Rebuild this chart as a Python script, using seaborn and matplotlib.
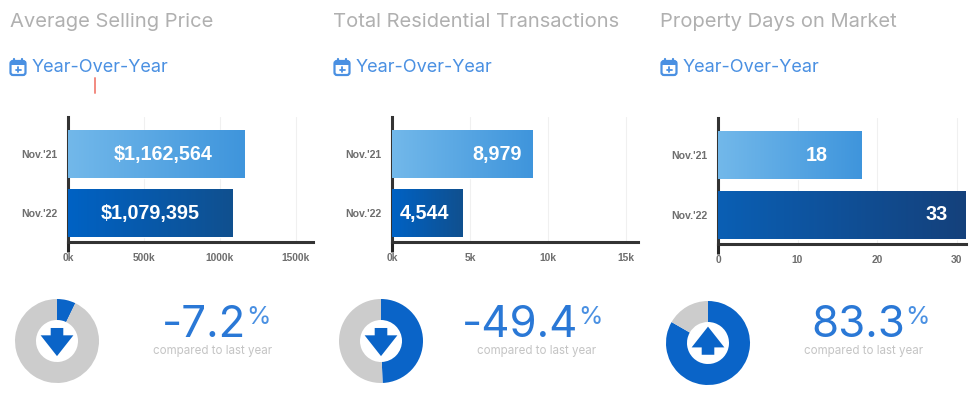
import numpy as np
import matplotlib
matplotlib.use("Agg")
import matplotlib.pyplot as plt
from matplotlib.colors import LinearSegmentedColormap
from matplotlib.patches import FancyBboxPatch, Polygon, Rectangle
import seaborn as sns

# ---- data ----
titles = ["Average Selling Price", "Total Residential Transactions", "Property Days on Market"]
periods = ["Nov.'21", "Nov.'22"]
selling_price = [1162564, 1079395]
transactions = [8979, 4544]
days_on_market = [18, 33]
price_labels = ["$1,162,564", "$1,079,395"]
transaction_labels = ["8,979", "4,544"]
days_labels = ["18", "33"]
price_ticks = [0, 500000, 1000000, 1500000]
transaction_ticks = [0, 5000, 10000, 15000]
days_ticks = [0, 10, 20, 30]
price_ticklabels = ["0k", "500k", "1000k", "1500k"]
transaction_ticklabels = ["0k", "5k", "10k", "15k"]
days_ticklabels = ["0", "10", "20", "30"]
changes = [-7.2, -49.4, 83.3]
change_labels = ["-7.2", "-49.4", "83.3"]

# ---- layout (pixels) ----
W, H = 975, 395
sns.set_theme(style="white")
HEAD = "Inter"
SMALL = "Liberation Sans"
BLUE = "#2a78d6"
BLUE_LIGHT = "#4a90e2"
GRAY_TITLE = "#b0b0b0"
panels = [
    dict(x0=68, x1=313, top=117, bottom=242, px_per_tick=76, text_x=10, icon_x=9, year_x=32, year_y=68,
         cx=57, cy=341, pct_x=246, cmp_x=213, label_x=[163, 150], dark=("#0062c4", "#10508f")),
    dict(x0=392, x1=638, top=117, bottom=242, px_per_tick=78, text_x=333, icon_x=333, year_x=356, year_y=67,
         cx=381, cy=341, pct_x=578, cmp_x=537, label_x=[497, 425], dark=("#0062c4", "#10508f")),
    dict(x0=718, x1=966, top=118, bottom=244, px_per_tick=79.5, text_x=660, icon_x=660, year_x=683, year_y=68,
         cx=708, cy=343, pct_x=905, cmp_x=864, label_x=[817, 937], dark=("#0a5fb4", "#153f78")),
]
series = [
    (selling_price, price_ticks, price_ticklabels, price_labels),
    (transactions, transaction_ticks, transaction_ticklabels, transaction_labels),
    (days_on_market, days_ticks, days_ticklabels, days_labels),
]

fig = plt.figure(figsize=(W / 100, H / 100), dpi=100, facecolor="white")
overlay = fig.add_axes([0, 0, 1, 1], zorder=5)
overlay.set_xlim(0, W)
overlay.set_ylim(H, 0)
overlay.axis("off")


def draw_calendar(x, y):
    overlay.add_patch(FancyBboxPatch((x + 1.5, y + 3), 15, 14, boxstyle="round,pad=0,rounding_size=2.5",
                                     fc="white", ec=BLUE_LIGHT, lw=1.6))
    overlay.add_patch(Rectangle((x + 1.5, y + 3), 15, 4, fc=BLUE_LIGHT, ec="none"))
    for dx in (5, 13):
        overlay.plot([x + dx, x + dx], [y + 1, y + 5], color=BLUE_LIGHT, lw=1.6, solid_capstyle="round")
    overlay.plot([x + 6.5, x + 11.5], [y + 11.5, y + 11.5], color=BLUE_LIGHT, lw=1.3)
    overlay.plot([x + 9, x + 9], [y + 9, y + 14], color=BLUE_LIGHT, lw=1.3)


for title, p, (values, ticks, ticklabels, labels), change, change_label in zip(
        titles, panels, series, changes, change_labels):
    ax = fig.add_axes([p["x0"] / W, 1 - p["bottom"] / H, (p["x1"] - p["x0"]) / W, (p["bottom"] - p["top"]) / H])
    sns.barplot(x=values, y=periods, order=periods, width=0.8, saturation=1, color="#4a9de0", ax=ax, zorder=2)
    unit = ticks[1] / p["px_per_tick"]
    xmax = (p["x1"] - p["x0"]) * unit
    ax.set_xticks(ticks, ticklabels)
    ylim = (1.48, -0.62)
    ramps = [("#72b8ea", "#3f95dc"), p["dark"]]
    for bar, ramp in zip(ax.patches, ramps):
        cmap = LinearSegmentedColormap.from_list("ramp", ramp)
        ax.imshow(np.linspace(0, 1, 128)[None, :], cmap=cmap, aspect="auto", zorder=3,
                  extent=(bar.get_x(), bar.get_x() + bar.get_width(),
                          bar.get_y() + bar.get_height(), bar.get_y()))
    ax.set_xlim(0, xmax)
    ax.set_ylim(*ylim)
    ax.set_xlabel("")
    ax.set_ylabel("")
    ax.grid(axis="x", color="#f0f0f0", lw=0.8, zorder=0)
    ax.grid(axis="y", visible=False)
    ax.set_axisbelow(True)
    for side in ("top", "right"):
        ax.spines[side].set_visible(False)
    for side in ("left", "bottom"):
        ax.spines[side].set_color("#333333")
        ax.spines[side].set_linewidth(2.2)
    ax.tick_params(axis="x", length=0, pad=8, labelsize=7.4, labelcolor="#6e6e6e")
    ax.tick_params(axis="y", length=0, pad=8, labelsize=7.6, labelcolor="#6e6e6e")
    first = ax.xaxis.get_major_ticks()[0]
    first.tick1line.set_visible(True)
    first.tick1line.set_markersize(7)
    first.tick1line.set_markeredgewidth(2.2)
    first.tick1line.set_color("#333333")
    for lab in ax.get_xticklabels() + ax.get_yticklabels():
        lab.set_fontfamily(SMALL)
        lab.set_fontweight("bold")

    for i, text in enumerate(labels):
        overlay.text(p["label_x"][i], p["top"] + 37.5 + i * 59.5, text, color="white", ha="center", va="center",
                     family=SMALL, weight="bold", fontsize=14.2)

    # headings
    overlay.text(p["text_x"], 22, title, color=GRAY_TITLE, family=HEAD, weight="normal", fontsize=14.5,
                 ha="left", va="center")
    draw_calendar(p["icon_x"], 58)
    overlay.text(p["year_x"], p["year_y"], "Year-Over-Year", color=BLUE_LIGHT, family=HEAD, fontsize=13,
                 ha="left", va="center")

    # donut
    r = 42
    dax = fig.add_axes([(p["cx"] - r) / W, 1 - (p["cy"] + r) / H, 2 * r / W, 2 * r / H])
    share = abs(change)
    dax.pie([share, 100 - share], colors=["#0a64c8", "#cccccc"], startangle=90, counterclock=False,
            radius=1, wedgeprops=dict(width=0.5, linewidth=0))
    dax.set_xlim(-1, 1)
    dax.set_ylim(-1, 1)
    s = -1 if change < 0 else 1
    off = 0.0 if change < 0 else 0.03
    arrow = [(-0.15, -0.31), (0.15, -0.31), (0.15, -0.135), (0.39, -0.135),
             (0, 0.36), (-0.39, -0.135), (-0.15, -0.135)]
    dax.add_patch(Polygon([(x, s * y + off) for x, y in arrow], closed=True, fc="#0a64c8", ec="none", zorder=5))

    # change figures
    overlay.text(p["pct_x"], 337, change_label, color=BLUE, family=HEAD, weight="normal", fontsize=31.5,
                 ha="right", va="baseline")
    overlay.text(p["pct_x"], 324, "%", color=BLUE_LIGHT, family=HEAD, weight="normal", fontsize=18,
                 ha="left", va="baseline")
    overlay.text(p["cmp_x"], 351, "compared to last year", color="#c4c4c4", family=HEAD, fontsize=8.3,
                 ha="center", va="center")

# stray red cursor mark in the source image
overlay.plot([94.5, 94.5], [78, 93], color="#f28a80", lw=1.4)

fig.savefig("out.png", dpi=100, facecolor="white")
